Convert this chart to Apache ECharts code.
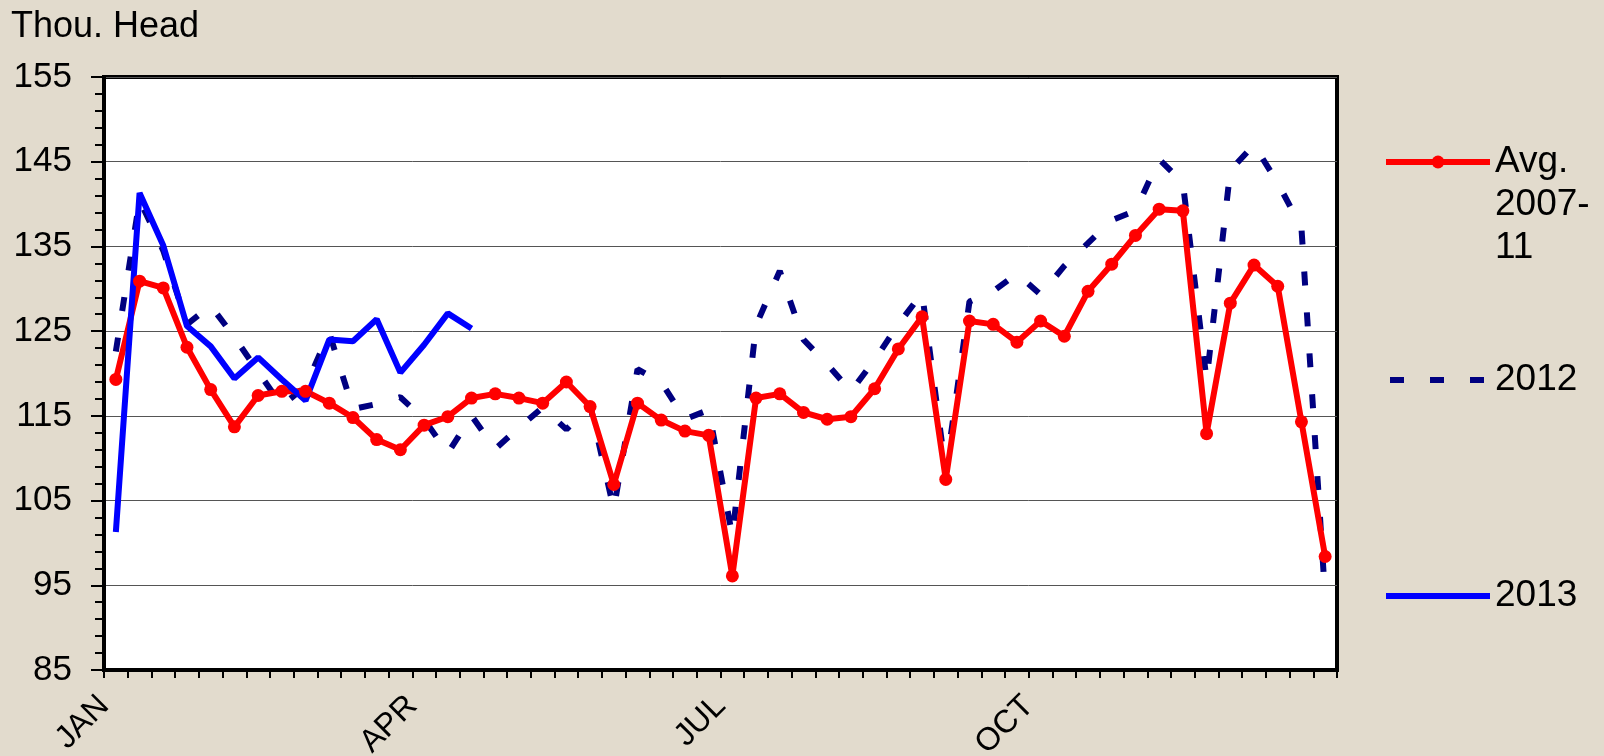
<!DOCTYPE html>
<html>
<head>
<meta charset="utf-8">
<title>Thou. Head</title>
<script src="https://cdn.jsdelivr.net/npm/echarts@6/dist/echarts.min.js"></script>
<style>
  html, body { margin: 0; padding: 0; background: #e2dbcd; }
  #chart { width: 1604px; height: 756px; }
</style>
</head>
<body>
<div id="chart"></div>
<script>
var dom = document.getElementById('chart');
var myChart = echarts.init(dom);

// weekly values, thousand head
var avg0711 = [119.3, 130.9, 130.1, 123.1, 118.1, 113.7, 117.4, 117.9, 117.9, 116.5,
  114.8, 112.2, 111.0, 113.9, 114.9, 117.1, 117.6, 117.1, 116.5, 119.0,
  116.1, 106.9, 116.5, 114.5, 113.2, 112.7, 96.1, 117.1, 117.6, 115.4,
  114.6, 114.9, 118.2, 122.9, 126.7, 107.5, 126.2, 125.8, 123.7, 126.2,
  124.4, 129.7, 132.9, 136.3, 139.4, 139.2, 112.9, 128.3, 132.8, 130.3,
  114.3, 98.4];
var y2012 = [122.6, 140.5, 134.5, 125.8, 128.0, 124.3, 120.2, 116.2, 118.5, 124.8,
  115.8, 116.4, 117.2, 114.6, 110.6, 115.0, 111.1, 113.6, 116.0, 113.4,
  116.3, 104.0, 120.5, 119.0, 114.6, 115.7, 100.8, 125.7, 132.1, 124.0,
  121.1, 117.9, 121.6, 125.8, 129.5, 108.4, 128.5, 129.7, 131.8, 129.3,
  132.7, 135.4, 138.1, 139.2, 145.3, 142.5, 119.2, 144.0, 147.0, 142.5,
  137.2, 93.6];
var y2013 = [101.3, 141.3, 135.1, 125.6, 123.2, 119.4, 121.9, 119.3, 116.8, 124.0,
  123.8, 126.4, 120.1, 123.4, 127.1, 125.3];

// quarter labels sit on week boundaries
var quarterWeeks = [0, 13, 26, 39];
var quarterNames = ['JAN', 'APR', 'JUL', 'OCT'];

var font = 'Liberation Sans, Arial, sans-serif';
var lh = 43;

function toPoints(arr) {
  return arr.map(function (v, i) { return [i + 0.5, v]; });
}

option = {
  backgroundColor: '#e2dbcd',
  animation: false,
  title: {
    text: 'Thou. Head',
    left: 11,
    top: 9,
    padding: 0,
    textStyle: { fontSize: 36, fontWeight: 'normal', color: '#000', fontFamily: font }
  },
  grid: {
    left: 104,
    right: 267,
    top: 77,
    bottom: 86,
    outerBoundsMode: 'none',
    containLabel: false,
    show: true,
    backgroundColor: '#fff',
    borderColor: '#000',
    borderWidth: 4
  },
  legend: [{
    data: ['Avg. 2007-11'],
    left: 1383,
    top: 162 - 2.5 * lh,
    padding: 0,
    itemWidth: 104,
    itemHeight: 16,
    selectedMode: false,
    // two blank lines keep "Avg." level with the symbol
    formatter: function () { return '\n\nAvg.\n2007-\n11'; },
    lineStyle: { width: 6 },
    textStyle: { fontSize: 37, lineHeight: lh, color: '#000', fontFamily: font }
  }, {
    data: ['2012'],
    left: 1387,
    top: 380 - lh / 2,
    padding: 0,
    itemWidth: 100,
    itemHeight: 16,
    selectedMode: false,
    itemStyle: { color: 'rgba(0,0,0,0)', borderWidth: 0, opacity: 0 },
    lineStyle: { width: 6, type: [14, 26] },
    textStyle: { fontSize: 37, lineHeight: lh, color: '#000', fontFamily: font }
  }, {
    data: ['2013'],
    left: 1383,
    top: 596 - lh / 2,
    padding: 0,
    itemWidth: 104,
    itemHeight: 16,
    selectedMode: false,
    itemStyle: { color: 'rgba(0,0,0,0)', borderWidth: 0, opacity: 0 },
    lineStyle: { width: 6 },
    textStyle: { fontSize: 37, lineHeight: lh, color: '#000', fontFamily: font }
  }],
  xAxis: {
    type: 'value',
    min: 0,
    max: 52,
    interval: 1,
    axisLine: { show: true, lineStyle: { color: '#000', width: 4 } },
    axisTick: { show: true, length: 8, lineStyle: { color: '#000', width: 2 } },
    splitLine: { show: false },
    axisLabel: {
      rotate: 45,
      margin: 31,
      fontSize: 32,
      color: '#000',
      fontFamily: font,
      formatter: function (v) {
        var k = quarterWeeks.indexOf(v);
        return k >= 0 ? quarterNames[k] : '';
      }
    }
  },
  yAxis: {
    type: 'value',
    min: 85,
    max: 155,
    interval: 10,
    axisLine: { show: true, lineStyle: { color: '#000', width: 4 } },
    axisTick: { show: true, length: 13, lineStyle: { color: '#000', width: 2 } },
    minorTick: { show: true, splitNumber: 5, length: 9, lineStyle: { color: '#000', width: 2 } },
    splitLine: { show: true, lineStyle: { color: '#555', width: 1 } },
    axisLabel: { margin: 32, fontSize: 35, color: '#000', fontFamily: font }
  },
  series: [{
    name: '2012',
    type: 'line',
    symbol: 'none',
    data: toPoints(y2012),
    lineStyle: { color: '#000080', width: 6, type: [14, 27], cap: 'butt' },
    itemStyle: { color: '#000080' }
  }, {
    name: 'Avg. 2007-11',
    type: 'line',
    symbol: 'circle',
    symbolSize: 13,
    data: toPoints(avg0711),
    lineStyle: { color: '#ff0000', width: 6 },
    itemStyle: { color: '#ff0000' }
  }, {
    name: '2013',
    type: 'line',
    symbol: 'none',
    data: toPoints(y2013),
    lineStyle: { color: '#0000ff', width: 6 },
    itemStyle: { color: '#0000ff' }
  }]
};

myChart.setOption(option);
window.onresize = myChart.resize;
</script>
</body>
</html>
